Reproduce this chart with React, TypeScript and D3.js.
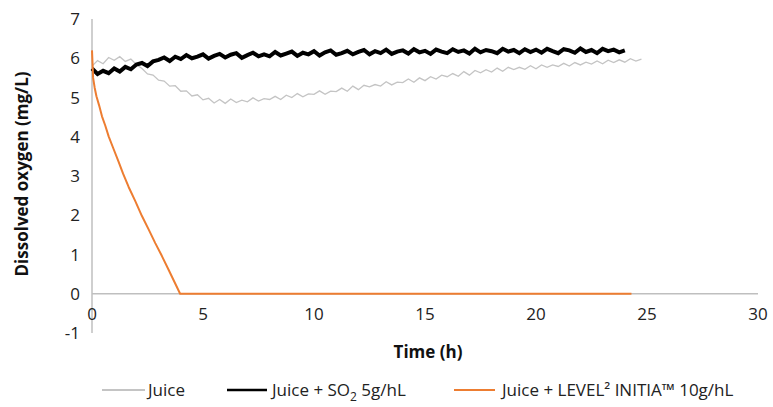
import React from "react";
import * as d3 from "d3";

const W = 773;
const H = 407;

const xTicks = [0, 5, 10, 15, 20, 25, 30];
const yTicks = [-1, 0, 1, 2, 3, 4, 5, 6, 7];

const sampleStep = 0.25; // hours between sampled readings

const juiceValues = [
  5.8, 5.94, 5.86, 6.02, 5.95, 6.04, 5.92, 5.98, 5.84, 5.74, 5.6, 5.57, 5.44, 5.42, 5.29, 5.3,
  5.16, 5.17, 5.04, 5.07, 4.94, 4.98, 4.86, 4.95, 4.85, 4.96, 4.87, 4.93, 4.89, 4.99, 4.91, 4.97,
  4.95, 5.03, 4.95, 5.06, 5.0, 5.1, 5.02, 5.09, 5.08, 5.17, 5.08, 5.16, 5.15, 5.24, 5.16, 5.29,
  5.2, 5.31, 5.27, 5.33, 5.29, 5.4, 5.32, 5.39, 5.38, 5.47, 5.39, 5.5, 5.43, 5.53, 5.47, 5.57,
  5.53, 5.61, 5.54, 5.66, 5.57, 5.69, 5.63, 5.71, 5.65, 5.75, 5.67, 5.77, 5.71, 5.77, 5.72, 5.81,
  5.73, 5.83, 5.77, 5.83, 5.79, 5.87, 5.8, 5.89, 5.83, 5.9, 5.85, 5.93, 5.86, 5.95, 5.89, 5.96,
  5.9, 5.99, 5.93, 5.98,
];

const so2Values = [
  5.74, 5.6, 5.68, 5.62, 5.74, 5.66, 5.78, 5.72, 5.84, 5.88, 5.8, 5.92, 5.96, 6.02, 5.93, 6.04,
  5.98, 6.08, 6.0, 6.04, 6.1, 5.99, 6.06, 6.11, 6.02, 6.09, 6.13, 6.01, 6.08, 6.14, 6.05, 6.1,
  6.05, 6.16, 6.07, 6.12, 6.17, 6.06, 6.14, 6.1, 6.18, 6.07, 6.15, 6.2, 6.09, 6.13, 6.19, 6.1,
  6.16, 6.21, 6.1, 6.18, 6.13, 6.22, 6.11, 6.17, 6.2, 6.12, 6.23, 6.15, 6.19, 6.11, 6.22, 6.17,
  6.13, 6.23, 6.16, 6.2, 6.12, 6.24, 6.15, 6.21, 6.18, 6.13, 6.24, 6.17, 6.21, 6.13, 6.23, 6.16,
  6.22, 6.14, 6.24, 6.18, 6.13, 6.23, 6.2, 6.14, 6.25, 6.16, 6.21, 6.13, 6.24, 6.18, 6.22, 6.15,
  6.2,
];

const initiaTimes = [0, 0.05, 0.12, 0.2, 0.32, 0.45, 0.6, 0.75, 0.95, 1.2, 1.4, 1.65, 1.95, 2.25, 2.55, 2.85, 3.15, 3.45, 3.97, 24.3];
const initiaValues = [6.2, 5.5, 5.25, 5.03, 4.8, 4.52, 4.28, 4.01, 3.72, 3.36, 3.06, 2.72, 2.36, 1.98, 1.64, 1.29, 0.96, 0.61, 0, 0];

const seriesNames = ["Juice", "Juice + SO", "Juice + LEVEL² INITIA™ 10g/hL"];
const seriesColors = ["#c4c4c4", "#000000", "#ed7d31"];

const FONT = "'Open Sans', 'Noto Sans', sans-serif";

export default function App() {
  const x = d3.scaleLinear().domain([0, 30]).range([92, 758]);
  const y = d3.scaleLinear().domain([-1, 7]).range([333, 19]);

  const line = d3
    .line<[number, number]>()
    .x((d) => x(d[0]))
    .y((d) => y(d[1]));

  const juicePts: [number, number][] = juiceValues.map((v, i) => [i * sampleStep, v]);
  const so2Pts: [number, number][] = so2Values.map((v, i) => [i * sampleStep, v]);
  const initiaPts: [number, number][] = initiaTimes.map((t, i) => [t, initiaValues[i]]);

  const axisColor = "#bfbfbf";
  const legendY = 390;

  return (
    <svg
      width={W}
      height={H}
      style={{ position: "absolute", left: 0, top: 0, background: "#fff" }}
      fontFamily={FONT}
    >
      {/* axes */}
      <line x1={x(0)} x2={x(0)} y1={y(-1)} y2={y(7)} stroke={axisColor} strokeWidth={1.5} />
      <line x1={x(0)} x2={x(30)} y1={y(0)} y2={y(0)} stroke={axisColor} strokeWidth={1.5} />

      {yTicks.map((t) => (
        <text key={"y" + t} x={80} y={y(t)} dy="0.36em" textAnchor="end" fontSize={17} fill="#222">
          {t}
        </text>
      ))}
      {xTicks.map((t) => (
        <text key={"x" + t} x={x(t)} y={y(0) + 20} dy="0.36em" textAnchor="middle" fontSize={17} fill="#222">
          {t}
        </text>
      ))}

      {/* series */}
      <path d={line(juicePts) || ""} fill="none" stroke={seriesColors[0]} strokeWidth={1.3} strokeLinejoin="miter" />
      <path d={line(so2Pts) || ""} fill="none" stroke={seriesColors[1]} strokeWidth={4} strokeLinejoin="miter" />
      <path d={line(initiaPts) || ""} fill="none" stroke={seriesColors[2]} strokeWidth={2} strokeLinejoin="round" />

      {/* axis titles */}
      <text
        transform={`translate(22,${(y(7) + y(-1)) / 2 - 2}) rotate(-90)`}
        textAnchor="middle"
        dy="0.36em"
        fontSize={17}
        fontWeight="bold"
        fill="#111"
      >
        Dissolved oxygen (mg/L)
      </text>
      <text x={428} y={352} textAnchor="middle" dy="0.36em" fontSize={17} fontWeight="bold" fill="#111">
        Time (h)
      </text>

      {/* legend */}
      <line x1={102} x2={145} y1={legendY} y2={legendY} stroke={seriesColors[0]} strokeWidth={2} />
      <text x={148} y={legendY} dy="0.36em" fontSize={17} fill="#222">
        {seriesNames[0]}
      </text>
      <line x1={227} x2={267} y1={legendY} y2={legendY} stroke={seriesColors[1]} strokeWidth={2.5} />
      <text x={272} y={legendY} dy="0.36em" fontSize={17} fill="#222">
        {seriesNames[1]}
        <tspan fontSize={12} dy={5}>2</tspan>
        <tspan dy={-5}> 5g/hL</tspan>
      </text>
      <line x1={454} x2={495} y1={legendY} y2={legendY} stroke={seriesColors[2]} strokeWidth={2} />
      <text x={502} y={legendY} dy="0.36em" fontSize={17} fill="#222">
        {seriesNames[2]}
      </text>
    </svg>
  );
}
